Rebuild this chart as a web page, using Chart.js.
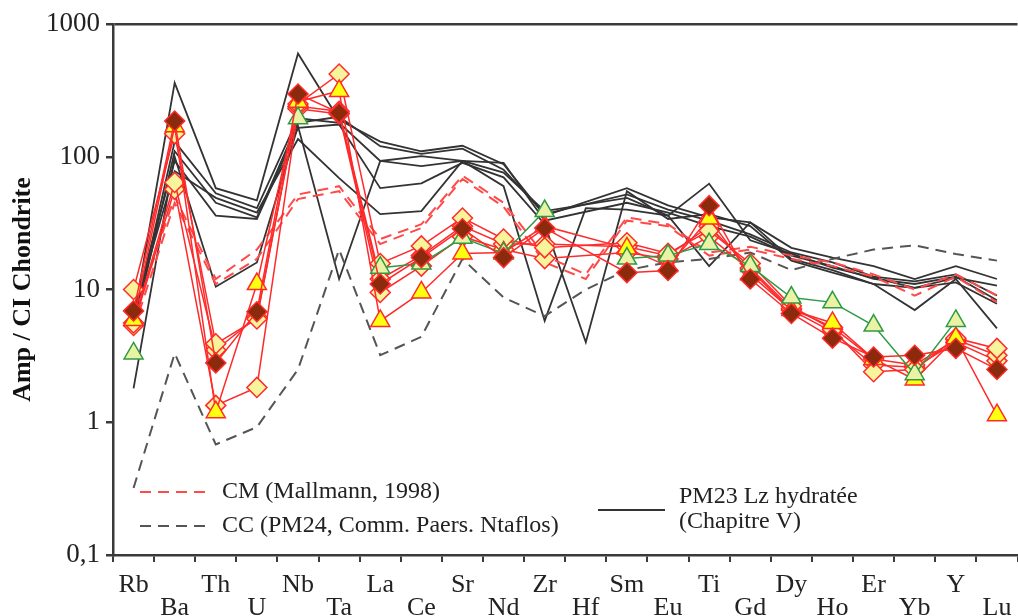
<!DOCTYPE html>
<html>
<head>
<meta charset="utf-8">
<script src="https://cdn.jsdelivr.net/npm/chart.js@4.4.1/dist/chart.umd.min.js"></script>
<style>
  html, body { margin: 0; padding: 0; background: #fff; overflow: hidden; }
  #wrap { width: 1030px; height: 616px; }
</style>
</head>
<body>
<div id="wrap"><canvas id="c" width="1030" height="616"></canvas></div>
<script>
// elements, in spider order
const elements = ['Rb','Ba','Th','U','Nb','Ta','La','Ce','Sr','Nd','Zr','Hf','Sm','Eu','Ti','Gd','Dy','Ho','Er','Yb','Y','Lu'];

const yTicks = [0.1, 1, 10, 100, 1000];
const yTickLabels = ['0,1', '1', '10', '100', '1000'];

// PM23 Lz hydratée (solid black)
const pm23a = [6, 360, 58, 47, 600, 190, 130, 110, 121, 88, 36, null, 58, 43, 35, 32, 20.6, 17.4, 15, 12, 15, 12];
const pm23b = [5.5, 130, 53, 41, 195, 180, 93, 101, 93, 76, 39, null, 49, 36, 62.7, 23.5, 18.6, 14.6, 12.3, 10.3, 12.3, 10.7];
const pm23c = [7, 93, 36, 34, 165, 175, 58, 63, 90, 70, 31, 4, 55, 34, 37, 30, 16.5, 13.4, 11, 7, 12, 5.1];
const pm23d = [1.8, 100, 10.5, 16, 170, 12, 93, 85, 93, 60, 5.8, 41, 40, 36, 15, 32, 17, 14, 11, 10.3, 11.3, 7.8];
const pm23e = [6.5, 78, 49, 38, 136, 69, 37, 39, 93, 90, 33, null, 45, 38, 30, 25, 18, 15, 12, 11, 12.5, 8.3];
const pm23f = [5, 110, 45, 35, 180, 200, 120, 105, 115, 80, 37, null, 52, 40, 33, 26, 19, 16, 12.5, 11.5, 13, 9];

// CM (Mallmann, 1998) red dashed
const cm1 = [5, 45, 11, 17, 48, 55, 22, 29, 68, 42, 16, 12, 33, 30, 18, 20, 17, 15, 12.5, 9, 12.5, 8];
const cm2 = [6, 50, 12, 20, 52, 60, 24, 31, 72, 45, 18, 13, 35, 31, 19, 21, 18, 16, 13, 10, 13, 9];

// CC (PM24) black dashed
const cc = [0.32, 3.3, 0.68, 0.92, 2.5, 20, 3.2, 4.4, 17, 8.7, 6.3, 10, 14, 16, 17, 19, 14, 17, 20, 21.5, 18.5, 16.5];

// amphiboles (red lines with markers)
const amp1 = [10, 149, 3.9, 6.0, 250, 420, 15.7, 21.3, 34.6, 24, 20.6, null, 22.5, 18.7, 27.8, 15.7, 7.5, 5, 2.4, 2.5, 4.3, 3.6];
const amp2 = [5.35, 57, 1.34, 1.83, 230, 210, 9.5, 15, 25, 20, 17.1, null, 19, 17, 25, 14, 7, 4.8, 2.7, 2.6, 4, 2.9];
const amp3 = [5.6, 64, 3.5, 6.2, 240, 220, 12, 18, 30, 22, 22, null, 21, 18, 30, 14.5, 7.2, 5.2, 3, 2.7, 4.2, 3.2];
const ampY = [5.9, 170, 1.19, 11, 260, 313, 5.8, 9.5, 18.7, 19, 30, null, 20.4, 15, 34.2, 13, 7, 5.6, 3, 2.1, 4.3, 1.13];
const ampG = [3.3, null, null, null, 195, null, 14.6, 15.7, 24.5, 18.7, 39, null, 17.1, 18, 22, 15, 8.7, 8, 5.35, 2.3, 5.8, null];
const ampB = [6.9, 186, 2.8, 6.8, 297, 214, 11, 17.4, 28.7, 17.4, 29, null, 13.4, 13.9, 42.8, 12, 6.6, 4.3, 3.1, 3.2, 3.6, 2.5];

const FONT = "'Liberation Serif', 'DejaVu Serif', serif";
const RED = '#ff2a2a';

function blackLine(data) {
  return { data, borderColor: '#333', borderWidth: 1.8, pointRadius: 0, spanGaps: true, tension: 0 };
}
function dashLine(data, color) {
  return { data, borderColor: color, borderWidth: 2, borderDash: [11, 7], pointRadius: 0, spanGaps: true };
}
function ampLine(data, style, fill, border, line, extra) {
  return Object.assign({
    data, borderColor: line, borderWidth: 1.5, spanGaps: true,
    pointStyle: style, pointRadius: style === 'triangle' ? 11 : 10,
    pointBackgroundColor: fill, pointBorderColor: border, pointBorderWidth: 1.5,
    pointHoverRadius: 10
  }, extra || {});
}

const legendPlugin = {
  id: 'handLegend',
  afterDraw(chart) {
    const ctx = chart.ctx;
    ctx.save();
    ctx.font = '24px ' + FONT;
    ctx.fillStyle = '#222';
    ctx.textBaseline = 'middle';
    ctx.lineWidth = 2;

    ctx.strokeStyle = '#ff4a4a';
    ctx.setLineDash([11, 7]);
    ctx.beginPath(); ctx.moveTo(140, 492); ctx.lineTo(206, 492); ctx.stroke();
    ctx.fillText('CM (Mallmann, 1998)', 222, 492);

    ctx.strokeStyle = '#555';
    ctx.beginPath(); ctx.moveTo(140, 526); ctx.lineTo(206, 526); ctx.stroke();
    ctx.fillText('CC (PM24, Comm. Paers. Ntaflos)', 222, 526);

    ctx.setLineDash([]);
    ctx.strokeStyle = '#333';
    ctx.beginPath(); ctx.moveTo(598, 510); ctx.lineTo(665, 510); ctx.stroke();
    ctx.fillText('PM23 Lz hydratée', 679, 497);
    ctx.fillText('(Chapitre V)', 679, 522);
    ctx.restore();
  }
};

// first dataset is drawn on top
new Chart(document.getElementById('c'), {
  type: 'line',
  data: {
    labels: elements.map((e, i) => i % 2 ? ['', e] : [e, '']),
    datasets: [
      ampLine(ampB, 'rectRot', '#8b2a0c', RED, RED),
      ampLine(ampG, 'triangle', '#eaf2a6', '#2f9a45', '#2f9a45', { spanGaps: 2 }),
      ampLine(ampY, 'triangle', '#ffff10', RED, RED),
      ampLine(amp1, 'rectRot', '#f8f49c', RED, RED),
      ampLine(amp3, 'rectRot', '#f8f49c', RED, RED),
      ampLine(amp2, 'rectRot', '#f8f49c', RED, RED),
      dashLine(cm1, '#ff4a4a'), dashLine(cm2, '#ff4a4a'),
      dashLine(cc, '#555'),
      blackLine(pm23a), blackLine(pm23b), blackLine(pm23c),
      blackLine(pm23d), blackLine(pm23e), blackLine(pm23f)
    ]
  },
  options: {
    responsive: false,
    animation: false,
    events: [],
    layout: { padding: { top: 24, right: 6, left: 0, bottom: 0 } },
    plugins: { legend: { display: false }, tooltip: { enabled: false } },
    scales: {
      x: {
        type: 'category',
        offset: true,
        grid: { drawOnChartArea: false, offset: true, tickLength: 7, tickColor: '#3a3a3a', lineWidth: 2 },
        border: { display: true, color: '#3a3a3a', width: 2.5 },
        ticks: {
          autoSkip: false, maxRotation: 0, minRotation: 0, padding: 11,
          color: '#222', font: { family: FONT, size: 26, lineHeight: 0.9 }
        },
        afterFit(s) { s.height = 61; }
      },
      y: {
        type: 'logarithmic',
        min: 0.1, max: 1000,
        afterBuildTicks(s) { s.ticks = yTicks.map(v => ({ value: v })); },
        grid: {
          drawOnChartArea: true,
          tickLength: 7,
          tickColor: '#3a3a3a',
          lineWidth: 2.5,
          color: c => (c.tick && c.tick.value === 1000) ? '#3a3a3a' : 'rgba(0,0,0,0)'
        },
        border: { display: true, color: '#3a3a3a', width: 2.5 },
        ticks: {
          padding: 6, color: '#222',
          font: { family: FONT, size: 27 },
          callback: v => { const i = yTicks.indexOf(v); return i >= 0 ? yTickLabels[i] : ''; }
        },
        title: {
          display: true, text: 'Amp / CI Chondrite', color: '#111',
          font: { family: FONT, size: 26, weight: 'bold' }, padding: { top: 8, bottom: 0 }
        },
        afterFit(s) { s.width = 113; }
      }
    }
  },
  plugins: [legendPlugin]
});
</script>
</body>
</html>
